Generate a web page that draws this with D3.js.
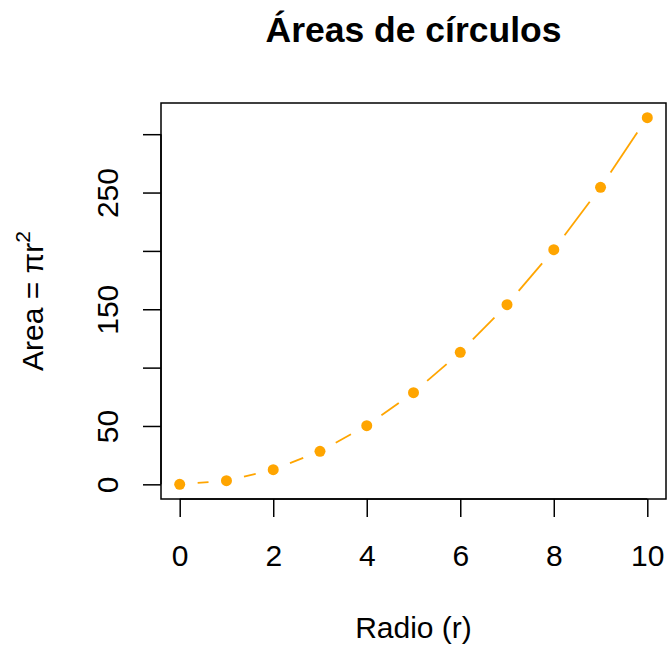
<!DOCTYPE html>
<html>
<head>
<meta charset="utf-8">
<script src="https://cdn.jsdelivr.net/npm/d3@7"></script>
<style>
  html, body { margin: 0; padding: 0; background: #fff; }
  svg { display: block; }
  text { font-family: "Liberation Sans", Arial, Helvetica, sans-serif; fill: #000; }
</style>
</head>
<body>
<script>
// ---- data ----
const radios = [0, 1, 2, 3, 4, 5, 6, 7, 8, 9, 10];
const areas = [0, 3.14, 12.57, 28.27, 50.27, 78.54, 113.10, 153.94, 201.06, 254.47, 314.16];
const xTicks = [0, 2, 4, 6, 8, 10];
const yTicks = [0, 50, 100, 150, 200, 250, 300];
const yTickLabels = [0, 50, 150, 250];   // labels R kept (others dropped for overlap)
const title = "Áreas de círculos";
const xTitle = "Radio (r)";

// ---- layout ----
const W = 667, H = 645;
const box = { left: 161, right: 666, top: 103, bottom: 499 };
const color = "#FFA500";
const fontSize = 30;

const svg = d3.select("body").append("svg").attr("width", W).attr("height", H);

// R-style 4% axis expansion
function expand(ext) { const d = (ext[1] - ext[0]) * 0.04; return [ext[0] - d, ext[1] + d]; }
const x = d3.scaleLinear().domain(expand(d3.extent(radios))).range([box.left, box.right]);
const y = d3.scaleLinear().domain(expand(d3.extent(areas))).range([box.bottom, box.top]);

// box
svg.append("rect")
  .attr("x", box.left).attr("y", box.top)
  .attr("width", box.right - box.left).attr("height", box.bottom - box.top)
  .attr("fill", "none").attr("stroke", "#000").attr("stroke-width", 1.5);

// x axis
const xAxis = d3.axisBottom(x).tickValues(xTicks).tickSize(18).tickSizeOuter(0).tickPadding(14);
const gx = svg.append("g").attr("transform", `translate(0,${box.bottom})`).call(xAxis);
gx.select(".domain").attr("d", `M${x(xTicks[0])},0H${x(xTicks[xTicks.length - 1])}`)
  .attr("stroke", "#000").attr("stroke-width", 1.5);
gx.selectAll(".tick line").attr("stroke", "#000").attr("stroke-width", 1.5);
gx.selectAll(".tick text").attr("font-size", fontSize).attr("fill", "#000")
  .attr("font-family", "Liberation Sans, Arial, sans-serif")
  .attr("dy", null).attr("y", 67);

// y axis
const yAxis = d3.axisLeft(y).tickValues(yTicks).tickSize(18).tickSizeOuter(0)
  .tickFormat(d => yTickLabels.includes(d) ? String(d) : "");
const gy = svg.append("g").attr("transform", `translate(${box.left},0)`).call(yAxis);
gy.select(".domain").attr("d", `M0,${y(yTicks[0])}V${y(yTicks[yTicks.length - 1])}`)
  .attr("stroke", "#000").attr("stroke-width", 1.5);
gy.selectAll(".tick line").attr("stroke", "#000").attr("stroke-width", 1.5);
gy.selectAll(".tick text")
  .attr("font-size", fontSize).attr("fill", "#000")
  .attr("font-family", "Liberation Sans, Arial, sans-serif")
  .attr("x", null).attr("dy", null)
  .attr("text-anchor", "middle")
  .attr("transform", "translate(-43,0) rotate(-90)");

// line segments with gaps (type = "b")
const gap = 18;
const pts = radios.map((r, i) => [x(r), y(areas[i])]);
const segs = d3.pairs(pts).map(([a, b]) => {
  const dx = b[0] - a[0], dy = b[1] - a[1], L = Math.hypot(dx, dy);
  const ux = dx / L, uy = dy / L;
  return [a[0] + ux * gap, a[1] + uy * gap, b[0] - ux * gap, b[1] - uy * gap, L];
}).filter(s => s[4] > 2 * gap);
svg.append("g").selectAll("line").data(segs).join("line")
  .attr("x1", d => d[0]).attr("y1", d => d[1])
  .attr("x2", d => d[2]).attr("y2", d => d[3])
  .attr("stroke", color).attr("stroke-width", 1.8);

// points
svg.append("g").selectAll("circle").data(radios).join("circle")
  .attr("cx", d => x(d)).attr("cy", (d, i) => y(areas[i]))
  .attr("r", 5.5).attr("fill", color);

// title
const cx = (box.left + box.right) / 2;
svg.append("text").attr("x", cx).attr("y", 42)
  .attr("text-anchor", "middle").attr("font-size", 35.5).attr("font-weight", "bold")
  .text(title);

// x title
svg.append("text").attr("x", cx).attr("y", 638)
  .attr("text-anchor", "middle").attr("font-size", fontSize).text(xTitle);

// y title: Area = πr²
const cy = (box.top + box.bottom) / 2;
const yt = svg.append("text").attr("transform", `translate(43,${cy}) rotate(-90)`)
  .attr("text-anchor", "middle").attr("font-size", fontSize);
yt.append("tspan").text("Area");
yt.append("tspan").text(" = ");
yt.append("tspan").text("π");
yt.append("tspan").text("r");
yt.append("tspan").attr("font-size", fontSize * 0.7).attr("dy", -13).text("2");
</script>
</body>
</html>
